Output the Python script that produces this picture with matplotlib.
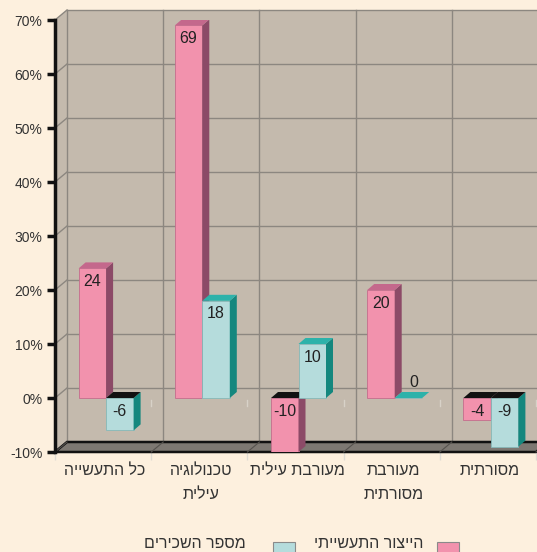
import numpy as np
import matplotlib.pyplot as plt
from matplotlib.patches import Polygon, Rectangle

# data (Hebrew, logical order)
categories = ['כל התעשייה', 'טכנולוגיה\nעילית', 'מעורבת עילית', 'מעורבת\nמסורתית', 'מסורתית']
production = [24, 69, -10, 20, -4]
employees = [-6, 18, 10, 0, -9]
series_names = ['הייצור התעשייתי', 'מספר השכירים']
yticks = [-10, 0, 10, 20, 30, 40, 50, 60, 70]

plt.rcParams['font.family'] = ['Liberation Sans', 'DejaVu Sans']


def rtl(s):
    # matplotlib has no bidi support, flip each line by hand
    return '\n'.join(line[::-1] for line in s.split('\n'))


W, H = 537, 552
fig = plt.figure(figsize=(W / 100, H / 100), dpi=100, facecolor='#fdf0de')
ax = fig.add_axes([55 / W, 100 / H, 481 / W, 432 / H])
ax.set_xlim(-0.5, 4.5)
ax.set_ylim(-10, 70)
ax.set_facecolor('none')

# pixel sizes -> data units
ux = 481 / 5.0
uy = 432 / 80.0
wdx, wdy = 12 / ux, 10 / uy      # wall depth
bdx, bdy = 7 / ux, 6 / uy        # bar depth
bw = 27.5 / ux
off = 3 / ux

wall = '#c4baad'
grid = '#8c8780'
x0, x1 = -0.5, 4.5
ylo, yhi = yticks[0], yticks[-1]

# walls
ax.add_patch(Polygon([(x0 + wdx, ylo + wdy), (x1 + wdx, ylo + wdy), (x1 + wdx, yhi + wdy),
                      (x0 + wdx, yhi + wdy)], closed=True, fc=wall, ec='none', clip_on=False, zorder=0))
ax.add_patch(Polygon([(x0, ylo), (x0, yhi), (x0 + wdx, yhi + wdy), (x0 + wdx, ylo + wdy)],
                     closed=True, fc=wall, ec='none', clip_on=False, zorder=0))
for t in yticks:
    ax.plot([x0 + wdx, x1 + wdx], [t + wdy, t + wdy], color=grid, lw=1, clip_on=False, zorder=1)
    ax.plot([x0, x0 + wdx], [t, t + wdy], color=grid, lw=1, clip_on=False, zorder=1)
bounds = np.arange(-0.5, 5.0, 1.0)
for b in bounds:
    ax.plot([b + wdx, b + wdx], [ylo + wdy, yhi + wdy], color=grid, lw=1, clip_on=False, zorder=1)
    # small category marks on the zero plane
    ax.plot([b, b], [-0.3, -1.5], color='#d8d2c8', lw=1, clip_on=False, zorder=1)

# floor
ax.add_patch(Polygon([(x0, ylo), (x1, ylo), (x1 + wdx, ylo + wdy), (x0 + wdx, ylo + wdy)],
                     closed=True, fc='#7d7872', ec='#111111', lw=1.8, clip_on=False, zorder=2))
for b in bounds:
    ax.plot([b, b + wdx], [ylo, ylo + wdy], color='#55524e', lw=0.8, clip_on=False, zorder=2)

x = np.arange(len(categories))
styles = [
    dict(front='#f292ad', side='#8c4a67', top='#c4688c', edge='#c46e8c'),
    dict(front='#b5dcdc', side='#14877e', top='#2db2aa', edge='#86b8b8'),
]
series = [production, employees]
z = 3
for s, (vals, st) in enumerate(zip(series, styles)):
    lefts = x + off - bw + s * bw
    ax.bar(lefts, vals, width=bw, align='edge', color=st['front'], edgecolor=st['edge'],
           lw=0.6, zorder=z + s * 2)
    for l, v in zip(lefts, vals):
        r = l + bw
        top, bot = max(v, 0), min(v, 0)
        if v != 0:
            ax.add_patch(Polygon([(r, bot), (r, top), (r + bdx, top + bdy), (r + bdx, bot + bdy)],
                                 closed=True, fc=st['side'], ec='none', zorder=z + s * 2))
        tc = '#111111' if v < 0 else st['top']
        ax.add_patch(Polygon([(l, top), (r, top), (r + bdx, top + bdy), (l + bdx, top + bdy)],
                             closed=True, fc=tc, ec='none', zorder=z + s * 2 + 1))
        if v == 0:
            ax.annotate(str(v), (l + bw / 2 + 0.06, 0), xytext=(0, 6), textcoords='offset points',
                        ha='center', va='bottom', fontsize=11.5, color='#222222', zorder=10)
        else:
            ax.annotate(str(v), (l + bw / 2, top), xytext=(0, -4), textcoords='offset points',
                        ha='center', va='top', fontsize=11.5, color='#222222', zorder=10)

# axes
for sp in ['top', 'right', 'bottom']:
    ax.spines[sp].set_visible(False)
ax.spines['left'].set_linewidth(2.5)
ax.spines['left'].set_color('#111111')
ax.spines['left'].set_bounds(ylo, yhi)
ax.spines['left'].set_zorder(6)
ax.set_yticks(yticks)
ax.set_yticklabels([f'{t}%' for t in yticks], fontsize=10, color='#333333')
ax.tick_params(axis='y', length=6, width=2.5, color='#111111', pad=3)
ax.set_xticks(x + 0.02)
ax.set_xticklabels([rtl(c) for c in categories], fontsize=11.5, color='#333333', linespacing=1.75)
ax.tick_params(axis='x', length=0, pad=8)
ax.set_xticks(bounds, minor=True)
ax.tick_params(axis='x', which='minor', length=6, color='#e0dcd4', width=1)

# legend, right to left: box then text (text right edge given in pixels)
items = [(series_names[0], styles[0], 437, 423), (series_names[1], styles[1], 273, 246)]
for name, st, bx, tx in items:
    fig.add_artist(Rectangle((bx / W, -12 / H), 22 / W, 22 / H, transform=fig.transFigure,
                             fc=st['front'], ec='#8a8a8a', lw=0.8))
    fig.text(tx / W, 0.5 / H, rtl(name), ha='right', va='bottom', fontsize=11.5, color='#333333')

fig.savefig('out.png', dpi=100, facecolor=fig.get_facecolor())
